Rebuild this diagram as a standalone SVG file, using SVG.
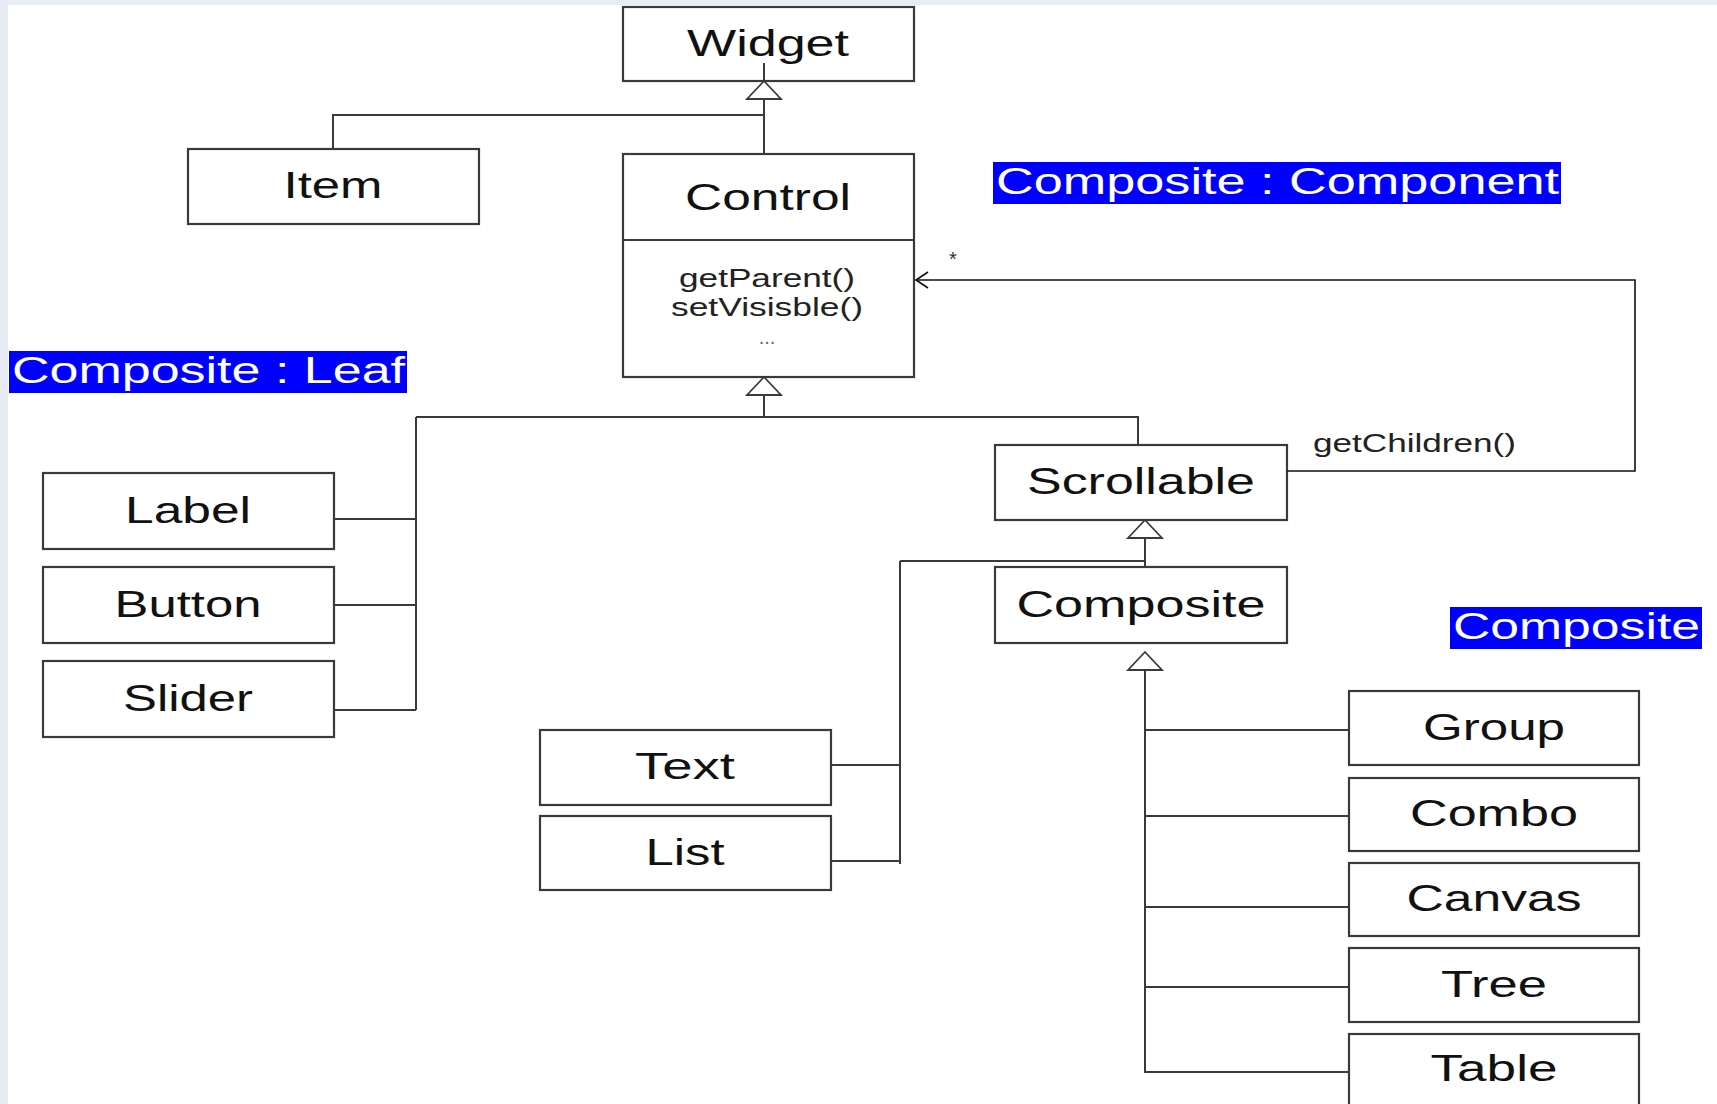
<svg xmlns="http://www.w3.org/2000/svg" width="1717" height="1104" viewBox="0 0 1717 1104">
<style>
  .box { fill: #ffffff; stroke: #3a3a3a; stroke-width: 2.2; }
  .lbl { font-family: "Liberation Sans", Arial, sans-serif; font-size: 36px; fill: #111111; text-anchor: middle; }
  .meth { font-family: "Liberation Sans", Arial, sans-serif; font-size: 25px; fill: #222222; text-anchor: middle; }
  .hl { fill: #0000ff; }
  .hlt { font-family: "Liberation Sans", Arial, sans-serif; font-size: 37px; fill: #ffffff; }
  .ln { fill: none; stroke: #3a3a3a; stroke-width: 2; }
  .assoc { fill: none; stroke: #111111; stroke-width: 1.6; }
  .tri { fill: #ffffff; stroke: #3a3a3a; stroke-width: 1.8; }
</style>
<rect x="0" y="0" width="1717" height="1104" fill="#e8edf5"/>
<rect x="8" y="5" width="1709" height="1099" fill="#ffffff"/>

<g id="widget">
  <rect class="box" x="623" y="7" width="291" height="74"/>
  <text class="lbl" x="768" y="56" textLength="162" lengthAdjust="spacingAndGlyphs">Widget</text>
</g>
<g id="item">
  <rect class="box" x="188" y="149" width="291" height="75"/>
  <text class="lbl" x="333" y="198" textLength="99" lengthAdjust="spacingAndGlyphs">Item</text>
</g>
<g id="control">
  <rect class="box" x="623" y="154" width="291" height="223"/>
  <line x1="623" y1="240" x2="914" y2="240" stroke="#3a3a3a" stroke-width="2"/>
  <text class="lbl" x="768" y="210" textLength="166" lengthAdjust="spacingAndGlyphs">Control</text>
  <text class="meth" x="767" y="287" textLength="176" lengthAdjust="spacingAndGlyphs">getParent()</text>
  <text class="meth" x="767" y="316" textLength="192" lengthAdjust="spacingAndGlyphs">setVisisble()</text>
  <text class="meth" x="767" y="344" style="fill:#666666;font-size:20px">...</text>
</g>

<g id="note-component">
  <rect class="hl" x="993" y="162" width="568" height="42"/>
  <text class="hlt" x="996" y="194" textLength="563" lengthAdjust="spacingAndGlyphs">Composite : Component</text>
</g>
<g id="note-leaf">
  <rect class="hl" x="9" y="351" width="398" height="42"/>
  <text class="hlt" x="12" y="383" textLength="393" lengthAdjust="spacingAndGlyphs">Composite : Leaf</text>
</g>
<g id="note-composite">
  <rect class="hl" x="1450" y="607" width="252" height="42"/>
  <text class="hlt" x="1453" y="639" textLength="247" lengthAdjust="spacingAndGlyphs">Composite</text>
</g>

<g id="label">
  <rect class="box" x="43" y="473" width="291" height="76"/>
  <text class="lbl" x="188" y="523" textLength="126" lengthAdjust="spacingAndGlyphs">Label</text>
</g>
<g id="button">
  <rect class="box" x="43" y="567" width="291" height="76"/>
  <text class="lbl" x="188" y="617" textLength="147" lengthAdjust="spacingAndGlyphs">Button</text>
</g>
<g id="slider">
  <rect class="box" x="43" y="661" width="291" height="76"/>
  <text class="lbl" x="188" y="711" textLength="130" lengthAdjust="spacingAndGlyphs">Slider</text>
</g>

<g id="scrollable">
  <rect class="box" x="995" y="445" width="292" height="75"/>
  <text class="lbl" x="1141" y="494" textLength="228" lengthAdjust="spacingAndGlyphs">Scrollable</text>
</g>
<g id="composite">
  <rect class="box" x="995" y="567" width="292" height="76"/>
  <text class="lbl" x="1141" y="617" textLength="249" lengthAdjust="spacingAndGlyphs">Composite</text>
</g>

<g id="text">
  <rect class="box" x="540" y="730" width="291" height="75"/>
  <text class="lbl" x="685" y="779" textLength="100" lengthAdjust="spacingAndGlyphs">Text</text>
</g>
<g id="list">
  <rect class="box" x="540" y="816" width="291" height="74"/>
  <text class="lbl" x="685" y="865" textLength="79" lengthAdjust="spacingAndGlyphs">List</text>
</g>

<g id="group">
  <rect class="box" x="1349" y="691" width="290" height="74"/>
  <text class="lbl" x="1494" y="740" textLength="142" lengthAdjust="spacingAndGlyphs">Group</text>
</g>
<g id="combo">
  <rect class="box" x="1349" y="778" width="290" height="73"/>
  <text class="lbl" x="1494" y="826" textLength="168" lengthAdjust="spacingAndGlyphs">Combo</text>
</g>
<g id="canvas">
  <rect class="box" x="1349" y="863" width="290" height="73"/>
  <text class="lbl" x="1494" y="911" textLength="175" lengthAdjust="spacingAndGlyphs">Canvas</text>
</g>
<g id="tree">
  <rect class="box" x="1349" y="948" width="290" height="74"/>
  <text class="lbl" x="1494" y="997" textLength="106" lengthAdjust="spacingAndGlyphs">Tree</text>
</g>
<g id="table">
  <rect class="box" x="1349" y="1034" width="290" height="90"/>
  <text class="lbl" x="1494" y="1081" textLength="127" lengthAdjust="spacingAndGlyphs">Table</text>
</g>

<g id="connectors">
  <!-- Widget generalization -->
  <path class="ln" d="M764,63 V154"/>
  <path class="ln" d="M333,149 V115 H764"/>
  <polygon class="tri" points="764,81 747,99 781,99"/>
  <!-- Control generalization -->
  <path class="ln" d="M764,395 V417"/>
  <path class="ln" d="M416,417 H1138 V445"/>
  <path class="ln" d="M416,417 V710"/>
  <path class="ln" d="M334,519 H416"/>
  <path class="ln" d="M334,605 H416"/>
  <path class="ln" d="M334,710 H416"/>
  <polygon class="tri" points="764,377 747,395 781,395"/>
  <!-- Scrollable generalization -->
  <path class="ln" d="M1145,538 V567"/>
  <path class="ln" d="M900,561 H1145"/>
  <path class="ln" d="M900,561 V864"/>
  <path class="ln" d="M831,765 H900"/>
  <path class="ln" d="M831,861 H900"/>
  <polygon class="tri" points="1145,520 1128,538 1162,538"/>
  <!-- Composite generalization -->
  <path class="ln" d="M1145,670 V1072 H1349"/>
  <path class="ln" d="M1145,730 H1349"/>
  <path class="ln" d="M1145,816 H1349"/>
  <path class="ln" d="M1145,907 H1349"/>
  <path class="ln" d="M1145,987 H1349"/>
  <polygon class="tri" points="1145,652 1128,670 1162,670"/>
  <!-- association getChildren -->
  <path class="assoc" d="M1287,471 H1635 V280 H916"/>
  <path class="assoc" d="M928,272 L916,280 L928,288"/>
  <text x="953" y="266" font-family="Liberation Sans, Arial, sans-serif" font-size="20" fill="#333" text-anchor="middle">*</text>
  <text x="1313" y="452" class="meth" style="text-anchor:start" textLength="203" lengthAdjust="spacingAndGlyphs">getChildren()</text>
</g>
</svg>
